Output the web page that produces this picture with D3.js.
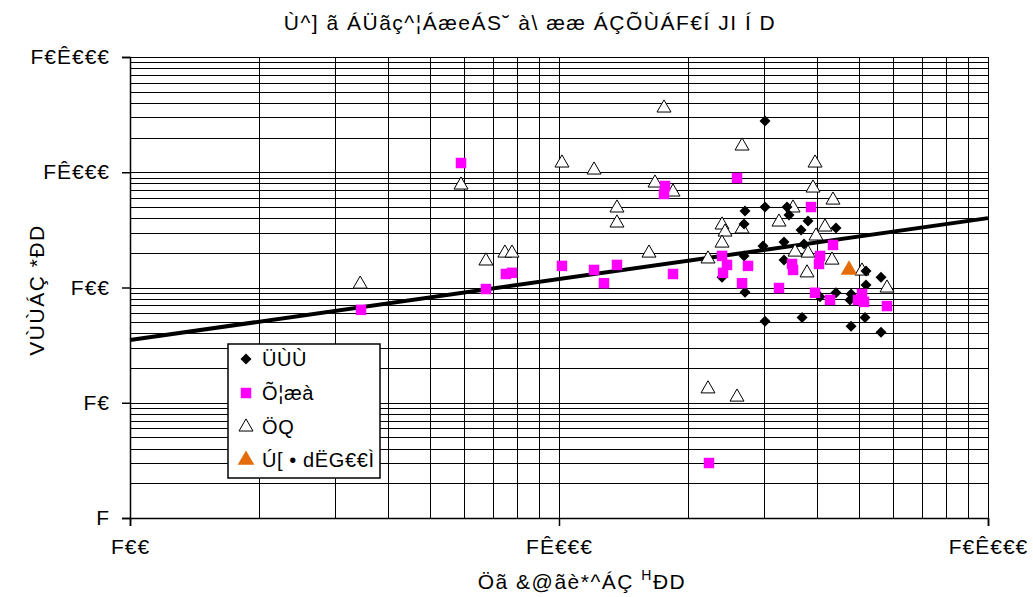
<!DOCTYPE html>
<html><head><meta charset="utf-8">
<script src="https://cdn.jsdelivr.net/npm/d3@7"></script>
<style>body{margin:0;background:#fff}svg{display:block;font-family:"Liberation Sans",Arial,sans-serif}</style>
</head><body><svg id="c" width="1033" height="597"></svg>
<script>
const titleText = "Ù^] ã ÁÜãç^¦ÁæeÁS˘ à\\ ææ ÁÇÕÙÁF€Í JI Í D";
const xLabel = ["Öã &@ãè*^ÁÇ ", "H", "ĐD"];
const yLabel = "VÙÙÁÇ *ĐD";
const xTickVals = [100, 1000, 10000];
const xTickLabels = ["F€€", "FÊ€€€", "F€Ê€€€"];
const yTickVals = [1, 10, 100, 1000, 10000];
const yTickLabels = ["F", "F€", "F€€", "FÊ€€€", "F€Ê€€€"];
const seriesNames = ["ÜÙÙ", "Õ¦æà", "ÖQ", "Ú[ • dËG€€Ì"];
const sss = [[3021,2784],[2714,461],[3021,499],[3400,499],[3437,426],[3806,378],[3666,315],[4423,328],[2700,356],[2989,229],[3346,248],[3725,238],[2700,188],[3346,173],[2399,123],[2714,91],[3021,51],[3686,55],[4423,90],[4059,83],[4795,88],[4768,78],[5195,105],[5195,139],[5631,123],[5167,55],[4795,46],[5631,41]];
const gradient = [[591,1203],[345.5,64],[675.6,97],[752,131],[777,134],[1016,154],[1207,142],[1273,109],[1365,157],[1844,131],[1766,760],[1757,648],[2600,892],[2399,188],[2412,134],[2464,157],[2671,109],[2758,154],[2237,3.0],[3257,99],[3493,160],[3512,142],[3868,499],[3952,90],[4037,160],[4059,188],[4283,78],[4352,234],[4977,78],[5085,88],[5140,75],[5815,69]];
const dq = [[1757,3610],[2671,1690],[3952,1203],[591,775],[1016,1203],[1207,1046],[1365,490],[1365,363],[1674,807],[1844,674],[344,107],[675.6,170],[748,199],[777,199],[1621,199],[2225,177],[2399,349],[2438,303],[2399,243],[2671,322],[3257,370],[3512,490],[3910,730],[4169,335],[4352,574],[3806,199],[3973,280],[4329,173],[3786,134],[5085,139],[5815,99],[2225,13.2],[2600,11.2],[3550,203]];
const post2008 = [[4743,142]];
const fitCoef = 35, fitExp = 0.529;

const svg = d3.select("#c");
const L = 130, R = 988, T = 57, B = 518;
const x = d3.scaleLog().domain([100, 10000]).range([L, R]);
const y = d3.scaleLog().domain([1, 10000]).range([B, T]);
const FS = 21, LS = 1.0;

// gridlines
const g = svg.append("g").attr("stroke", "#000").attr("stroke-width", 1).attr("shape-rendering", "crispEdges");
const minorX = [], minorY = [];
for (let d = 100; d < 10000; d *= 10) for (let k = 1; k <= 10; k++) minorX.push(d * k);
for (let d = 1; d < 10000; d *= 10) for (let k = 1; k <= 10; k++) minorY.push(d * k);
g.selectAll(".vx").data([...new Set(minorX)]).join("line")
  .attr("x1", d => Math.round(x(d)) + 0.5).attr("x2", d => Math.round(x(d)) + 0.5).attr("y1", T).attr("y2", B);
g.selectAll(".hy").data([...new Set(minorY)]).join("line")
  .attr("y1", d => Math.round(y(d)) + 0.5).attr("y2", d => Math.round(y(d)) + 0.5).attr("x1", L).attr("x2", R);

// axes
const ax = svg.append("g").attr("transform", `translate(0,${B})`)
  .call(d3.axisBottom(x).tickValues(xTickVals).tickFormat((d, i) => xTickLabels[i]).tickSize(8).tickPadding(10));
const ay = svg.append("g").attr("transform", `translate(${L},0)`)
  .call(d3.axisLeft(y).tickValues(yTickVals).tickFormat((d, i) => yTickLabels[i]).tickSize(8).tickPadding(12));
[ax, ay].forEach(a => {
  a.select(".domain").attr("stroke", "#000").attr("stroke-width", 1.5);
  a.selectAll(".tick line").attr("stroke", "#000").attr("stroke-width", 1.5);
  a.selectAll("text").attr("font-size", FS).attr("letter-spacing", LS).attr("fill", "#000")
    .attr("font-family", "Liberation Sans, Arial, sans-serif");
});
ax.selectAll("text").attr("dy", "0.85em");

// regression line
const lx = [100, 10000];
svg.append("path").datum(lx.map(v => [v, fitCoef * Math.pow(v / 100, fitExp)]))
  .attr("d", d3.line().x(d => x(d[0])).y(d => y(d[1])))
  .attr("stroke", "#000").attr("stroke-width", 4).attr("fill", "none");

const diamond = "M0,-5.5L5.5,0L0,5.5L-5.5,0Z";
const square = d3.symbol().type(d3.symbolSquare).size(110);
const tri = d3.symbol().type(d3.symbolTriangle).size(85);
const triF = d3.symbol().type(d3.symbolTriangle).size(120);

svg.append("g").selectAll("path").data(dq).join("path")
  .attr("transform", d => `translate(${x(d[0])},${y(d[1])})`).attr("d", tri)
  .attr("fill", "#fff").attr("stroke", "#000").attr("stroke-width", 1);
svg.append("g").selectAll("path").data(sss).join("path")
  .attr("transform", d => `translate(${x(d[0])},${y(d[1])})`).attr("d", diamond).attr("fill", "#000");
svg.append("g").selectAll("path").data(gradient).join("path")
  .attr("transform", d => `translate(${x(d[0])},${y(d[1])})`).attr("d", square).attr("fill", "#FF00FF");
svg.append("g").selectAll("path").data(post2008).join("path")
  .attr("transform", d => `translate(${x(d[0])},${y(d[1])})`).attr("d", triF).attr("fill", "#E46C0A");

// legend
const lg = svg.append("g").attr("transform", "translate(228,344)");
lg.append("rect").attr("width", 152).attr("height", 134).attr("fill", "#fff").attr("stroke", "#000").attr("stroke-width", 1.5);
const syms = [
  {d: diamond, fill: "#000", stroke: "none"},
  {d: square(), fill: "#FF00FF", stroke: "none"},
  {d: tri(), fill: "#fff", stroke: "#000"},
  {d: triF(), fill: "#E46C0A", stroke: "none"}];
const rowY = [15, 49, 83, 116];
seriesNames.forEach((n, i) => {
  lg.append("path").attr("transform", `translate(18,${rowY[i]})`).attr("d", syms[i].d)
    .attr("fill", syms[i].fill).attr("stroke", syms[i].stroke);
  lg.append("text").attr("x", 34).attr("y", rowY[i]).attr("dy", "0.36em").attr("font-size", 20).attr("letter-spacing", 0.6).text(n);
});

// titles
svg.append("text").attr("x", 530).attr("y", 30).attr("text-anchor", "middle").attr("font-size", FS).attr("letter-spacing", 1.5).text(titleText);
const xl = svg.append("text").attr("x", 582).attr("y", 589).attr("text-anchor", "middle").attr("font-size", FS).attr("letter-spacing", 1.5);
xl.append("tspan").text(xLabel[0]);
xl.append("tspan").attr("font-size", 14).attr("dy", -9).text(xLabel[1]);
xl.append("tspan").attr("dy", 9).text(xLabel[2]);
svg.append("text").attr("transform", "translate(44,290) rotate(-90)").attr("text-anchor", "middle").attr("font-size", FS).attr("letter-spacing", 1.5).text(yLabel);
</script></body></html>
